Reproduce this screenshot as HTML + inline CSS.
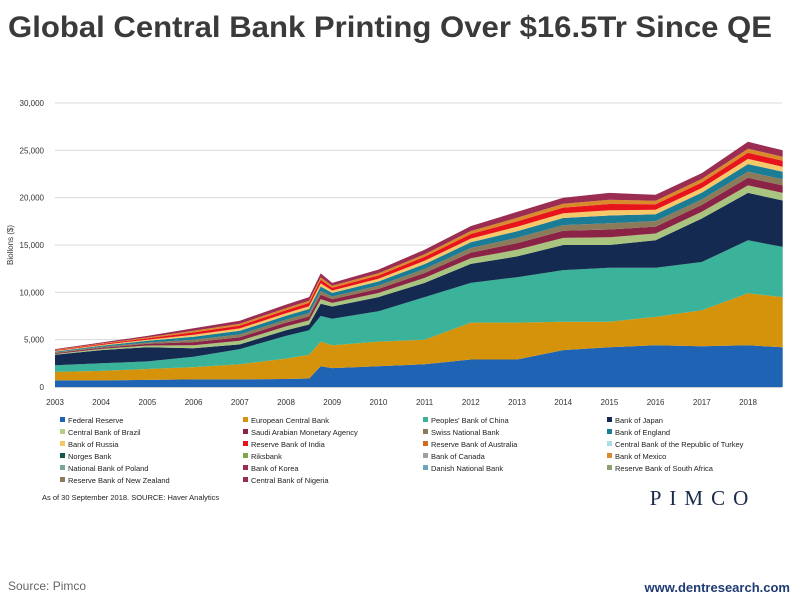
<!DOCTYPE html>
<html><head><meta charset="utf-8">
<style>
body{margin:0;background:#fff;width:797px;height:598px;overflow:hidden;font-family:"Liberation Sans",sans-serif;}
svg{position:absolute;left:0;top:0}
</style></head>
<body>
<svg width="797" height="598">
<text x="8" y="37" font-size="30" font-weight="bold" fill="#3a3a3a" textLength="764" lengthAdjust="spacingAndGlyphs">Global Central Bank Printing Over $16.5Tr Since QE</text>
<g id="grid"></g>
<g id="areas"></g>
<g id="axes"></g>
<text transform="translate(13,245) rotate(-90)" font-size="8" text-anchor="middle" fill="#333">Biollons ($)</text>
<g id="legend"></g>
<text x="42" y="500" font-size="7.5" fill="#222">As of 30 September 2018. SOURCE: Haver Analytics</text>
<text x="703" y="505" font-size="21" font-family="Liberation Serif,serif" letter-spacing="8" text-anchor="middle" fill="#1b2a4a">PIMCO</text>
<text x="8" y="590" font-size="12" fill="#666">Source: Pimco</text>
<text x="790" y="592" font-size="13" font-weight="bold" fill="#1f3b73" text-anchor="end">www.dentresearch.com</text>
</svg>
<script>
const years=[2003,2004,2005,2006,2007,2008,2008.5,2008.75,2009,2010,2011,2012,2013,2014,2015,2016,2017,2018,2018.75];
const fed=[700,700,750,800,800,850,900,2200,2000,2200,2400,2900,2900,3900,4200,4400,4300,4400,4200];
const ecb=[900,1000,1150,1300,1600,2150,2500,2600,2400,2600,2600,3900,3900,3000,2700,3000,3800,5500,5300];
const pboc=[700,800,800,1100,1600,2400,2600,2700,2800,3200,4500,4200,4800,5450,5700,5200,5100,5600,5300];
const boj=[1100,1400,1500,900,500,600,600,1300,1300,1500,1500,2000,2200,2650,2400,2900,4600,5000,4900];
const brazil=[90,120,180,320,380,400,430,480,380,430,520,600,700,750,820,720,720,800,800];
const saudi=[90,120,180,320,380,400,430,480,380,430,520,600,700,750,820,720,720,800,800];
const swiss=[70,100,140,250,300,320,350,380,300,350,420,480,560,600,660,580,580,650,640];
const england=[90,120,180,320,380,400,430,480,380,430,520,600,700,750,820,720,720,800,800];
const russia=[60,80,120,210,250,270,290,320,250,290,350,400,470,500,550,480,480,540,530];
const india=[70,100,140,250,300,320,350,380,300,350,420,480,560,600,660,580,580,650,640];
const australia=[50,60,100,170,200,220,230,260,200,230,280,320,380,400,440,380,380,430,420];
const korea=[80,100,160,260,310,370,390,420,310,390,470,520,630,650,730,620,620,730,670];
const yTicks=[0,5000,10000,15000,20000,25000,30000];
const xTicks=[2003,2004,2005,2006,2007,2008,2009,2010,2011,2012,2013,2014,2015,2016,2017,2018];
const legendNames=["Federal Reserve","European Central Bank","Peoples' Bank of China","Bank of Japan","Central Bank of Brazil","Saudi Arabian Monetary Agency","Swiss National Bank","Bank of England","Bank of Russia","Reserve Bank of India","Reserve Bank of Australia","Central Bank of the Republic of Turkey","Norges Bank","Riksbank","Bank of Canada","Bank of Mexico","National Bank of Poland","Bank of Korea","Danish National Bank","Reserve Bank of South Africa","Reserve Bank of New Zealand","Central Bank of Nigeria"];
const legendColors=["#1f63b5","#d4930a","#3ab39a","#142a50","#b5cf8a","#8b2346","#8c7b5a","#1b7c96","#f5c86a","#e8141c","#d2691e","#a8dde8","#13584f","#7ea844","#a0a0a0","#d98a2a","#7aa69a","#9b2c52","#6ea6c0","#8fa070","#8c7b5a","#9b2c52"];
const NS="http://www.w3.org/2000/svg";
const X=v=>55+(v-2003)*46.2, Y=v=>387-v*284/30000;
function mk(t,a){const e=document.createElementNS(NS,t);for(const k in a)e.setAttribute(k,a[k]);return e;}
const grid=document.getElementById('grid'),axes=document.getElementById('axes');
yTicks.forEach(t=>{
  const l=mk('line',{x1:55,x2:782,y1:Y(t),y2:Y(t),stroke:t===0?'#999':'#d9d9d9','stroke-width':1});
  
  
  grid.appendChild(l);
  const tx=mk('text',{x:44,y:Y(t)+3,'font-size':8,'text-anchor':'end',fill:'#333'});
  tx.textContent=t.toLocaleString('en-US');
  
  
  axes.appendChild(tx);
});
xTicks.forEach(t=>{
  const tx=mk('text',{x:X(t),y:405,'font-size':8,'text-anchor':'middle',fill:'#333'});
  tx.textContent=t;
  
  
  axes.appendChild(tx);
});
const layers=[[fed,"#1f63b5","federal-reserve"],[ecb,"#d4930a","ecb"],[pboc,"#3ab39a","pboc"],[boj,"#142a50","bank-of-japan"],[brazil,"#a9c47f","brazil"],[saudi,"#8b2346","saudi"],[swiss,"#8c7b5a","swiss"],[england,"#1b7c96","england"],[russia,"#f5c86a","russia"],[india,"#e8141c","india"],[australia,"#d98a2a","australia"],[korea,"#9b2c52","korea"]];
const areas=document.getElementById('areas');
let base=years.map(()=>0);
layers.forEach(([arr,col,nm])=>{
  const top=base.map((b,i)=>b+arr[i]);
  let d='M'+years.map((y,i)=>X(y).toFixed(1)+','+Y(top[i]).toFixed(1)).join('L');
  for(let i=years.length-1;i>=0;i--)d+='L'+X(years[i]).toFixed(1)+','+Y(base[i]).toFixed(1);
  const p=mk('path',{d:d+'Z',fill:col});
  
  
  areas.appendChild(p);
  base=top;
});
const lg=document.getElementById('legend');
const cols=[60,243,423,607];
legendNames.forEach((n,i)=>{
  const x=cols[i%4],y=423+Math.floor(i/4)*12;
  const g=mk('g',{});
  
  
  g.appendChild(mk('rect',{x:x,y:y-6,width:5,height:5,fill:legendColors[i]}));
  const t=mk('text',{x:x+8,y:y,'font-size':7.5,fill:'#222'});
  t.textContent=n;g.appendChild(t);lg.appendChild(g);
});
</script>
</body></html>
